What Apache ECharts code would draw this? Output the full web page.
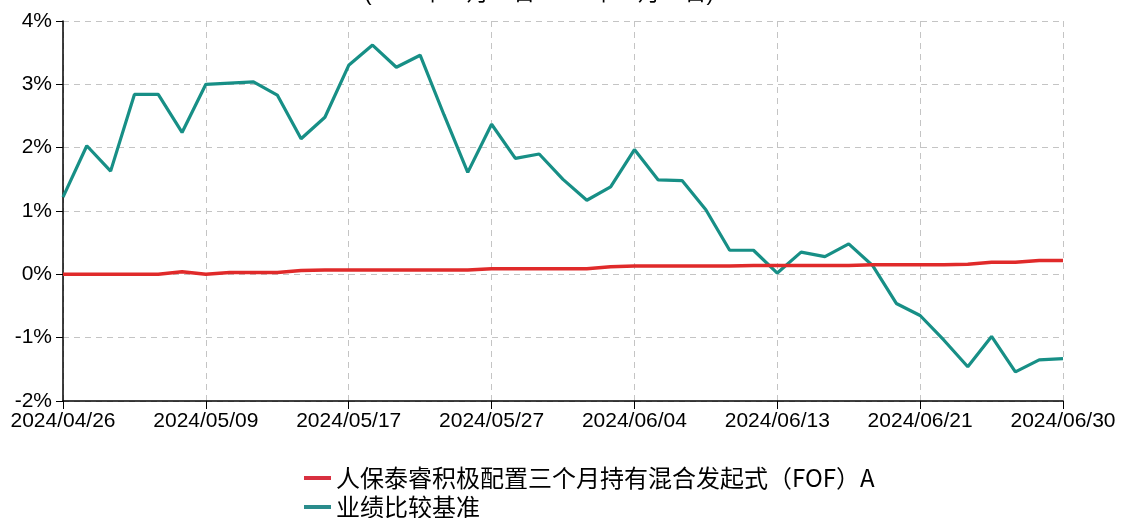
<!DOCTYPE html>
<html>
<head>
<meta charset="utf-8">
<script src="https://cdn.jsdelivr.net/npm/echarts@6/dist/echarts.min.js"></script>
<style>
html,body{margin:0;padding:0;background:#fff;}
#chart{width:1121px;height:518px;}
</style>
</head>
<body>
<div id="chart"></div>
<script>
var titleText = '(2024年04月26日-2024年06月30日)';
var seriesNames = ['人保泰睿积极配置三个月持有混合发起式（FOF）A', '业绩比较基准'];
var dates = ['2024/04/26','2024/04/29','2024/04/30','2024/05/06','2024/05/07','2024/05/08','2024/05/09','2024/05/10','2024/05/13','2024/05/14','2024/05/15','2024/05/16','2024/05/17','2024/05/20','2024/05/21','2024/05/22','2024/05/23','2024/05/24','2024/05/27','2024/05/28','2024/05/29','2024/05/30','2024/05/31','2024/06/03','2024/06/04','2024/06/05','2024/06/06','2024/06/07','2024/06/11','2024/06/12','2024/06/13','2024/06/14','2024/06/17','2024/06/18','2024/06/19','2024/06/20','2024/06/21','2024/06/24','2024/06/25','2024/06/26','2024/06/27','2024/06/28','2024/06/30'];
var fundValues = [0.00,0.00,0.00,0.00,0.00,0.04,0.00,0.03,0.03,0.03,0.06,0.07,0.07,0.07,0.07,0.07,0.07,0.07,0.09,0.09,0.09,0.09,0.09,0.12,0.13,0.13,0.13,0.13,0.13,0.14,0.14,0.14,0.14,0.14,0.15,0.15,0.15,0.15,0.16,0.19,0.19,0.22,0.22];
var benchValues = [1.22,2.03,1.63,2.84,2.84,2.24,3.00,3.02,3.04,2.83,2.14,2.48,3.30,3.62,3.27,3.46,2.52,1.61,2.37,1.83,1.90,1.50,1.17,1.38,1.97,1.49,1.48,1.02,0.38,0.38,0.02,0.35,0.28,0.48,0.14,-0.46,-0.65,-1.04,-1.46,-0.98,-1.54,-1.35,-1.33];
var yMin = -2, yMax = 4, yStep = 1;

var fontFam = '"Liberation Sans", Arial, "Noto Sans CJK SC", sans-serif';
var legendText = {fontSize: 24, color: '#000', fontFamily: '"Noto Sans CJK SC", "Liberation Sans", sans-serif', padding: [18,0,0,0]};
function makeLegend(name, top) {
  return {
    orient: 'vertical', left: 304, top: top,
    itemWidth: 27, itemHeight: 4, icon: 'rect',
    data: [name], textStyle: legendText, padding: 0
  };
}
var chart = echarts.init(document.getElementById('chart'), null, {renderer:'canvas'});
chart.setOption({
  animation: false,
  backgroundColor: '#fff',
  title: {
    text: titleText,
    left: 534, top: -22, textAlign: 'center',
    textStyle: {fontSize: 22, fontWeight: 'normal', color: '#000', fontFamily: fontFam}
  },
  legend: [makeLegend(seriesNames[0], 466), makeLegend(seriesNames[1], 495)],
  grid: {left: 63, right: 58, top: 21, bottom: 117, containLabel: false},
  xAxis: {
    type: 'category',
    data: dates,
    boundaryGap: false,
    axisLine: {onZero: false, lineStyle: {color: '#000', width: 1.5}},
    axisTick: {show: true, interval: 5, length: 8, lineStyle: {color: '#000'}},
    axisLabel: {interval: 5, margin: 10, fontSize: 21, color: '#000', fontFamily: fontFam,
      showMinLabel: true, showMaxLabel: true},
    splitLine: {show: true, interval: 5, lineStyle: {color: '#c4c4c4', type: [6,5], width: 1}}
  },
  yAxis: {
    type: 'value',
    min: yMin, max: yMax, interval: yStep,
    axisLine: {show: true, lineStyle: {color: '#000', width: 1.5}},
    axisTick: {show: true, length: 7, lineStyle: {color: '#000'}},
    axisLabel: {formatter: '{value}%', margin: 11, fontSize: 21, color: '#000', fontFamily: fontFam},
    splitLine: {show: true, lineStyle: {color: '#c4c4c4', type: [6,5], width: 1}}
  },
  series: [
    {name: seriesNames[0], type: 'line', data: fundValues, symbol: 'none', z: 3,
      lineStyle: {color: '#e02a2a', width: 3.5}, itemStyle: {color: '#d83040'}},
    {name: seriesNames[1], type: 'line', data: benchValues, symbol: 'none', z: 2,
      lineStyle: {color: '#178f86', width: 3.2}, itemStyle: {color: '#2a8c8c'}}
  ]
});
</script>
</body>
</html>
